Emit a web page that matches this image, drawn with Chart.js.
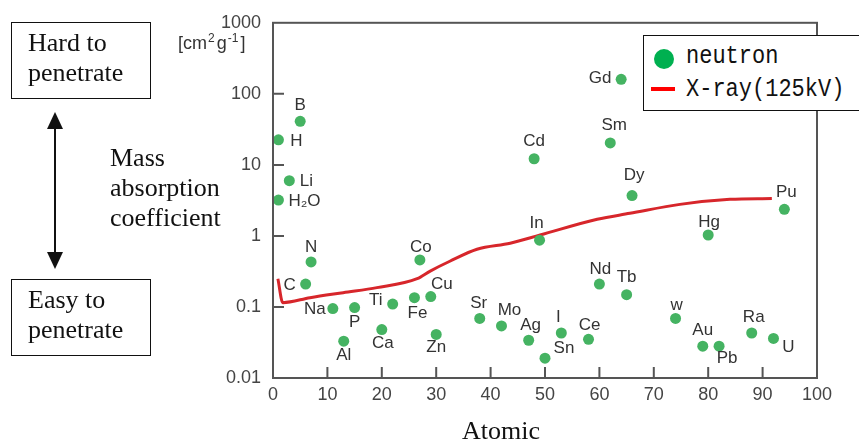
<!DOCTYPE html>
<html>
<head>
<meta charset="utf-8">
<script src="https://cdn.jsdelivr.net/npm/chart.js@4.4.1/dist/chart.umd.min.js"></script>
<style>
  body { margin: 0; background: #fff; }
  #wrap { position: relative; width: 859px; height: 442px; overflow: hidden; }
  #chart { position: absolute; left: 0; top: 0; }
  .serif { position: absolute; font-family: "Liberation Serif", "Times New Roman", serif; font-size: 26px; line-height: 30px; color: #111; }
  .box { border: 1.5px solid #111; box-sizing: border-box; padding-left: 16px; padding-top: 5px; }
  #unit { position: absolute; left: 178px; top: 31px; font-family: "Liberation Sans", Arial, sans-serif; font-size: 18px; color: #333; }
  #unit sup { font-size: 12px; margin: 0 2px 0 1px; }
  #legend { position: absolute; left: 643px; top: 35px; width: 230px; height: 76px; border: 1.5px solid #111; box-sizing: border-box; background: #fff;
            font-family: "Liberation Mono", monospace; font-size: 22px; color: #111; }
  .lg { position: absolute; left: 42px; transform: scaleY(1.15); }
</style>
</head>
<body>
<div id="wrap">
  <canvas id="chart" width="859" height="442"></canvas>
  <div class="serif box" style="left:11px;top:22px;width:140px;height:77px;">Hard to<br>penetrate</div>
  <div class="serif box" style="left:11px;top:279px;width:140px;height:77px;">Easy to<br>penetrate</div>
  <div class="serif" style="left:110px;top:143px;">Mass<br>absorption<br>coefficient</div>
  <div class="serif" style="left:462px;top:416px;">Atomic</div>
  <svg style="position:absolute;left:0;top:0" width="120" height="300">
    <line x1="55" y1="125" x2="55" y2="256" stroke="#111" stroke-width="2"/>
    <polygon points="55,112 47,129 63,129" fill="#111"/>
    <polygon points="55,269 47,252 63,252" fill="#111"/>
  </svg>
  <div id="unit">[cm<sup>2</sup>g<sup>-1</sup>]</div>
  <div id="legend">
    <svg style="position:absolute;left:0;top:0" width="40" height="76">
      <circle cx="20" cy="23" r="10" fill="#00b050"/>
      <line x1="7" y1="53" x2="31" y2="53" stroke="#ff0000" stroke-width="4"/>
    </svg>
    <div class="lg" id="lg1" style="top:8px;"></div>
    <div class="lg" id="lg2" style="top:41px;"></div>
  </div>
</div>
<script>
// neutron mass absorption coefficients [cm2/g]
var elements = ["H", "B", "Li", "H₂O", "N", "C", "Na", "P", "Al", "Ca", "Ti", "Fe", "Cu", "Co", "Zn", "Sr", "Mo", "Ag", "Cd", "In", "Sn", "I", "Ce", "Nd", "Sm", "Gd", "Tb", "Dy", "w", "Au", "Hg", "Pb", "Ra", "U", "Pu"];
var atomicNumbers = [1, 5, 3, 1, 7, 6, 11, 15, 13, 20, 22, 26, 29, 27, 30, 38, 42, 47, 48, 49, 50, 53, 58, 60, 62, 64, 65, 66, 74, 79, 80, 82, 88, 92, 94];
var neutronValues = [22.5, 41, 6.0, 3.2, 0.43, 0.21, 0.095, 0.098, 0.033, 0.048, 0.11, 0.135, 0.14, 0.46, 0.041, 0.069, 0.054, 0.034, 12.2, 0.87, 0.019, 0.043, 0.035, 0.21, 20.4, 160, 0.149, 3.7, 0.069, 0.028, 1.03, 0.028, 0.043, 0.036, 2.37];

// X-ray (125kV) curve
var xrayZ = [0.9, 1.8, 6.8, 12.9, 19.1, 26.5, 28.9, 32.5, 37.5, 43.6, 49.1, 59.6, 65.6, 74.8, 84.0, 91.7];
var xrayValues = [0.25, 0.115, 0.135, 0.159, 0.187, 0.25, 0.32, 0.44, 0.65, 0.79, 1.03, 1.72, 2.08, 2.78, 3.27, 3.37];

var yTicks = [0.01, 0.1, 1, 10, 100, 1000];
var seriesNames = ["neutron", "X-ray(125kV)"];

// label offsets from the dot (layout only)
var labelOffsets = [[18,1],[0,-16],[17,1],[26,1],[0,-15],[-16,1],[-18,1],[0,15],[0,14],[1,14],[-17,-4],[3,16],[11,-12],[1,-13],[0,13],[-1,-15],[8,-16],[2,-15],[0,-17],[-3,-17],[19,-10],[-3,-16],[1,-14],[1,-15],[4,-18],[-21,-1],[0,-17],[2,-20],[1,-13],[0,-16],[1,-13],[8,12],[2,-16],[15,9],[2,-17]];

document.getElementById("lg1").textContent = seriesNames[0];
document.getElementById("lg2").textContent = seriesNames[1];

var neutronData = [];
for (var i = 0; i < elements.length; i++) {
    neutronData.push({x: atomicNumbers[i], y: neutronValues[i]});
}
var xrayData = [];
for (var j = 0; j < xrayZ.length; j++) {
    xrayData.push({x: xrayZ[j], y: xrayValues[j]});
}

var decor = {
    id: "decor",
    afterDatasetsDraw: function(chart) {
        var ctx = chart.ctx;
        var a = chart.chartArea;
        var xs = chart.scales.x, ys = chart.scales.y;
        ctx.save();
        ctx.strokeStyle = "#555";
        ctx.lineWidth = 2;
        ctx.strokeRect(a.left, a.top, a.right - a.left, a.bottom - a.top);
        ctx.beginPath();
        for (var v = 10; v < 100; v += 10) {
            var px = xs.getPixelForValue(v);
            ctx.moveTo(px, a.bottom);
            ctx.lineTo(px, a.bottom - 11);
        }
        for (var k = 1; k < yTicks.length - 1; k++) {
            var py = ys.getPixelForValue(yTicks[k]);
            ctx.moveTo(a.left, py);
            ctx.lineTo(a.left + 11, py);
        }
        ctx.stroke();

        // element labels
        var meta = chart.getDatasetMeta(0);
        ctx.fillStyle = "#333";
        ctx.font = "17px 'Liberation Sans', Arial, sans-serif";
        ctx.textAlign = "center";
        ctx.textBaseline = "middle";
        for (var n = 0; n < elements.length; n++) {
            var pt = meta.data[n];
            ctx.fillText(elements[n], pt.x + labelOffsets[n][0], pt.y + labelOffsets[n][1]);
        }
        ctx.restore();
    }
};

new Chart(document.getElementById("chart"), {
    type: "scatter",
    data: {
        datasets: [{
            label: seriesNames[0],
            data: neutronData,
            backgroundColor: "#45b362",
            borderWidth: 0,
            pointRadius: 5.5,
            order: 1
        }, {
            type: "line",
            label: seriesNames[1],
            data: xrayData,
            showLine: true,
            borderColor: "#d7262b",
            borderWidth: 3,
            pointRadius: 0,
            fill: false,
            cubicInterpolationMode: "monotone",
            order: 2
        }]
    },
    options: {
        responsive: false,
        animation: false,
        layout: { padding: { left: 200, right: 42, top: 19, bottom: 24 } },
        plugins: { legend: { display: false }, tooltip: { enabled: false } },
        scales: {
            x: {
                type: "linear",
                min: 0, max: 100,
                ticks: { stepSize: 10, padding: 6, color: "#444", font: { family: "'Liberation Sans', Arial, sans-serif", size: 18 } },
                grid: { display: false, drawTicks: false },
                border: { display: false },
                afterFit: function(s) { s.height = 40; }
            },
            y: {
                type: "logarithmic",
                min: 0.01, max: 1000,
                afterBuildTicks: function(s) {
                    s.ticks = yTicks.map(function(v) { return {value: v}; });
                },
                ticks: {
                    padding: 12, color: "#444",
                    font: { family: "'Liberation Sans', Arial, sans-serif", size: 18 },
                    callback: function(v) { return String(v); }
                },
                grid: { display: false, drawTicks: false },
                border: { display: false },
                afterFit: function(s) { s.width = 73; }
            }
        }
    },
    plugins: [decor]
});
</script>
</body>
</html>
